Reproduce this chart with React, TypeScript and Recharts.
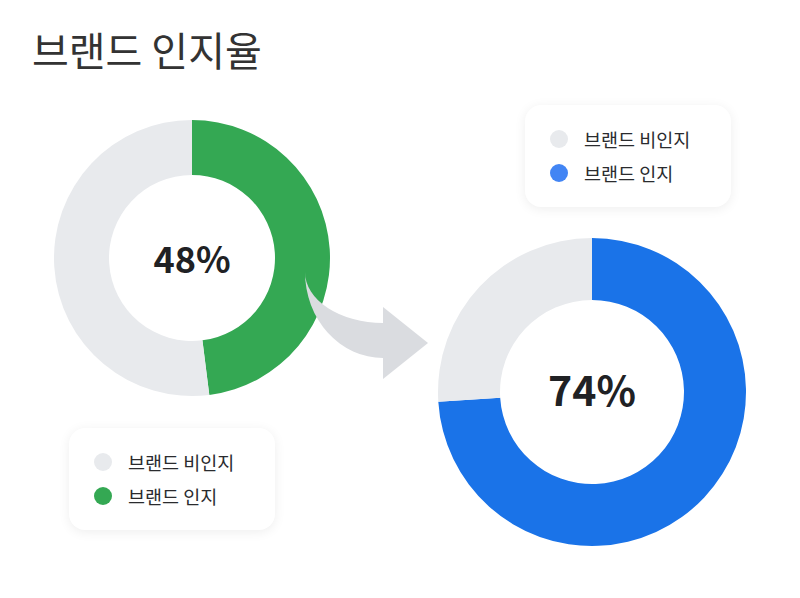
import React from "react";
import { PieChart, Pie, Cell } from "recharts";

// categories and values (percent)
const categories = ["브랜드 인지", "브랜드 비인지"];
const beforeValues = [48, 52];
const afterValues = [74, 26];
const legendOrder = ["브랜드 비인지", "브랜드 인지"];

const GRAY = "#e8eaed";
const GREEN = "#34a853";
const BLUE = "#1a73e8";
const BLUE_DOT = "#4285f4";
const FONT = '"Noto Sans CJK KR", "Noto Sans", sans-serif';

const LEFT = { cx: 192, cy: 258, inner: 83, outer: 138 };
const RIGHT = { cx: 592, cy: 392, inner: 92, outer: 154 };

const toRows = (values: number[]) =>
  categories.map((name, i) => ({ name, value: values[i] }));

const LegendBox: React.FC<{ left: number; top: number; colors: Record<string, string> }> = ({
  left,
  top,
  colors,
}) => (
  <div
    style={{
      position: "absolute",
      left,
      top,
      width: 206,
      height: 102,
      background: "#fff",
      borderRadius: 16,
      boxShadow: "0 2px 12px rgba(0,0,0,0.07)",
      fontFamily: FONT,
      fontSize: 18.5,
      color: "#2a2b2e",
    }}
  >
    {legendOrder.map((name, i) => (
      <div
        key={name}
        style={{
          position: "absolute",
          left: 25,
          top: 24 + i * 34,
          height: 20,
          display: "flex",
          alignItems: "center",
        }}
      >
        <span
          style={{
            width: 18,
            height: 18,
            borderRadius: "50%",
            background: colors[name],
            display: "inline-block",
            marginRight: 16,
          }}
        />
        <span>{name}</span>
      </div>
    ))}
  </div>
);

const App: React.FC = () => {
  const before = toRows(beforeValues);
  const after = toRows(afterValues);
  return (
    <div style={{ position: "relative", width: 800, height: 598, margin: -8, background: "#fff" }}>
      <div
        style={{
          position: "absolute",
          left: 32,
          top: 26,
          fontFamily: FONT,
          fontSize: 40,
          lineHeight: "46px",
          color: "#333",
        }}
      >
        브랜드 인지율
      </div>
      <PieChart
        width={800}
        height={598}
        margin={{ top: 0, right: 0, bottom: 0, left: 0 }}
        style={{ position: "absolute", left: 0, top: 0 }}
      >
        <Pie
          data={before}
          dataKey="value"
          nameKey="name"
          cx={LEFT.cx}
          cy={LEFT.cy}
          innerRadius={LEFT.inner}
          outerRadius={LEFT.outer}
          startAngle={90}
          endAngle={-270}
          stroke="none"
          isAnimationActive={false}
        >
          <Cell fill={GREEN} />
          <Cell fill={GRAY} />
        </Pie>
        <Pie
          data={after}
          dataKey="value"
          nameKey="name"
          cx={RIGHT.cx}
          cy={RIGHT.cy}
          innerRadius={RIGHT.inner}
          outerRadius={RIGHT.outer}
          startAngle={90}
          endAngle={-270}
          stroke="none"
          isAnimationActive={false}
        >
          <Cell fill={BLUE} />
          <Cell fill={GRAY} />
        </Pie>
      </PieChart>
      {/* curved arrow between the two donuts, and center percentages */}
      <svg width={800} height={598} style={{ position: "absolute", left: 0, top: 0 }}>
        <path
          d="M305,272 A78,86 0 0 0 383,358 L383,379 L428,343 L383,307 L383,323 A78,51 0 0 1 305,272 Z"
          fill="#dadce0"
        />
        <text
          x={LEFT.cx}
          y={LEFT.cy - 1}
          textAnchor="middle"
          dominantBaseline="central"
          fontFamily={FONT}
          fontSize={36}
          fontWeight={700}
          fill="#202124"
        >
          {`${beforeValues[0]}%`}
        </text>
        <text
          x={RIGHT.cx}
          y={RIGHT.cy - 4}
          textAnchor="middle"
          dominantBaseline="central"
          fontFamily={FONT}
          fontSize={41}
          fontWeight={700}
          fill="#202124"
        >
          {`${afterValues[0]}%`}
        </text>
      </svg>
      <LegendBox left={69} top={428} colors={{ "브랜드 비인지": GRAY, "브랜드 인지": GREEN }} />
      <LegendBox left={525} top={105} colors={{ "브랜드 비인지": GRAY, "브랜드 인지": BLUE_DOT }} />
    </div>
  );
};

export default App;
